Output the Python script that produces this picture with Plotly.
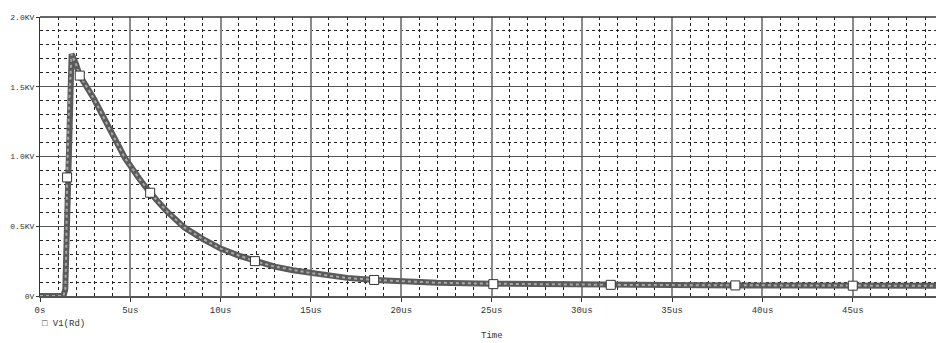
import plotly.graph_objects as go

# Curve V1(Rd): time in microseconds, voltage in kV
time_us = [0, 0.5, 1.0, 1.3, 1.4, 1.45, 1.5, 1.6, 1.75, 2.0, 2.2, 3.0, 4.0, 4.7, 5.5, 6.1, 7.0, 8.0,
           9.0, 10.0, 11.0, 11.9, 13.0, 14.0, 15.0, 16.0, 17.0, 18.5, 20.0, 22.0, 25.0, 28.0,
           31.6, 35.0, 38.5, 42.0, 45.0, 48.0, 50.0]
volt_kv = [0, 0, 0, 0.0, 0.05, 0.3, 0.85, 1.35, 1.735, 1.66, 1.58, 1.41, 1.16, 0.99, 0.84, 0.74, 0.61, 0.49,
           0.41, 0.34, 0.29, 0.25, 0.21, 0.185, 0.165, 0.145, 0.13, 0.115, 0.105, 0.095, 0.088, 0.083,
           0.08, 0.078, 0.076, 0.075, 0.074, 0.073, 0.073]

# Square marker positions along the trace
marker_t = [1.5, 2.2, 6.1, 11.9, 18.5, 25.1, 31.6, 38.5, 45.0]
marker_v = [0.85, 1.58, 0.74, 0.25, 0.115, 0.085, 0.08, 0.076, 0.074]

x_tickvals = [0, 5, 10, 15, 20, 25, 30, 35, 40, 45, 50]
x_ticktext = ["0s", "5us", "10us", "15us", "20us", "25us", "30us", "35us", "40us", "45us", "50us"]
y_tickvals = [0, 0.5, 1.0, 1.5, 2.0]
y_ticktext = ["0V", "0.5KV", "1.0KV", "1.5KV", "2.0KV"]

FONT = "Liberation Mono"

fig = go.Figure()
fig.add_trace(go.Scatter(x=time_us, y=volt_kv, mode="lines",
                         line=dict(color="#5a5a5a", width=6), hoverinfo="skip", showlegend=False))
fig.add_trace(go.Scatter(x=time_us, y=volt_kv, mode="lines",
                         line=dict(color="#a8a8a8", width=2, dash="dot"), hoverinfo="skip", showlegend=False))
fig.add_trace(go.Scatter(x=marker_t, y=marker_v, mode="markers",
                         marker=dict(symbol="square", size=9, color="white",
                                     line=dict(color="#333333", width=1)),
                         showlegend=False))

fig.update_layout(
    width=936, height=335,
    margin=dict(l=32, r=0, t=9, b=47, autoexpand=False),
    paper_bgcolor="white", plot_bgcolor="white",
    font=dict(family=FONT, size=9, color="#333333"),
    xaxis=dict(range=[0, 50.05], tickvals=x_tickvals, ticktext=x_ticktext, automargin=False,
               showgrid=True, gridcolor="#8a8a8a", gridwidth=1.5,
               ticks="outside", ticklen=4, tickcolor="#333333",
               showline=True, linecolor="#555555", linewidth=1.5, mirror=False,
               zeroline=False,
               minor=dict(dtick=1, showgrid=True, gridcolor="#222222", gridwidth=1, griddash="3px,3px")),
    yaxis=dict(range=[0, 2.0], tickvals=y_tickvals, ticktext=y_ticktext, automargin=False,
               tickfont=dict(family=FONT, size=8, color="#333333"),
               showgrid=True, gridcolor="#555555", gridwidth=1.2,
               ticks="outside", ticklen=3, tickcolor="#333333",
               showline=True, linecolor="#333333", linewidth=1.2,
               zeroline=False,
               minor=dict(dtick=0.1, showgrid=True, gridcolor="#222222", gridwidth=1, griddash="3px,3px")),
    annotations=[
        dict(text="\u25a1 V1(Rd)", xref="paper", yref="paper", x=0.0, y=-0.10,
             xanchor="left", yanchor="middle", showarrow=False,
             font=dict(family=FONT, size=9, color="#333333")),
        dict(text="Time", xref="paper", yref="paper", x=0.5, y=-0.143,
             xanchor="center", yanchor="middle", showarrow=False,
             font=dict(family=FONT, size=9, color="#333333")),
    ],
)
# top border line
fig.add_shape(type="line", xref="paper", yref="paper", x0=0, x1=1, y0=1, y1=1,
              line=dict(color="#333333", width=1.5))

fig.write_html("out.html")
